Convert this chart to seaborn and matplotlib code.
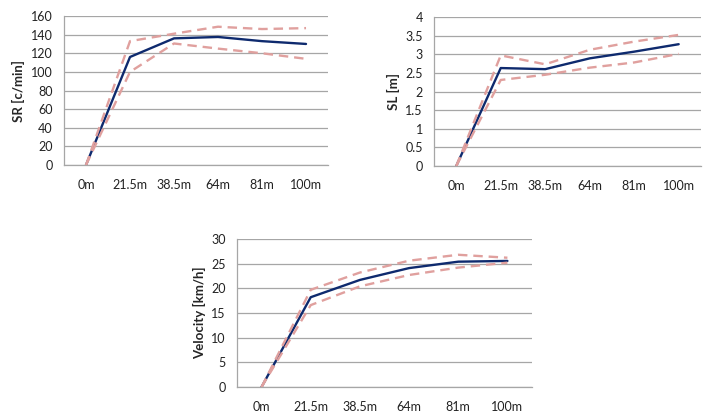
import numpy as np
import pandas as pd
import matplotlib
matplotlib.use("Agg")
import matplotlib.pyplot as plt
import seaborn as sns

sns.set_style("white")
plt.rcParams['font.family'] = ['Lato', 'DejaVu Sans']

categories = ["0m", "21.5m", "38.5m", "64m", "81m", "100m"]

sr_mean = [0, 116, 136, 137.5, 133, 130]
sr_upper = [0, 133, 141, 148.5, 146, 147]
sr_lower = [0, 100, 130.5, 125, 120, 114]

sl_mean = [0, 2.63, 2.60, 2.89, 3.07, 3.27]
sl_upper = [0, 2.97, 2.73, 3.12, 3.34, 3.52]
sl_lower = [0, 2.31, 2.45, 2.64, 2.78, 3.01]

vel_mean = [0, 18.2, 21.7, 24.1, 25.4, 25.55]
vel_upper = [0, 19.7, 23.2, 25.6, 26.8, 26.2]
vel_lower = [0, 16.6, 20.4, 22.7, 24.2, 25.2]

NAVY = "#0E2A6E"
PINK = "#E0A09E"
GRID = "#A6A6A6"

fig = plt.figure(figsize=(7.08, 4.17), dpi=100)
ax1 = fig.add_axes([0.0904, 0.6043, 0.3729, 0.3573])
ax2 = fig.add_axes([0.6130, 0.6019, 0.3770, 0.3573])
ax3 = fig.add_axes([0.3347, 0.0719, 0.4167, 0.3550])

def draw(ax, mean, upper, lower, ylabel, ymax, ystep, yfmt):
    x = np.arange(len(categories))
    df = pd.DataFrame({"x": np.tile(x, 3),
                       "y": list(mean) + list(upper) + list(lower),
                       "s": ["mean"] * len(x) + ["upper"] * len(x) + ["lower"] * len(x)})
    sns.lineplot(data=df[df.s == "mean"], x="x", y="y", ax=ax, color=NAVY, lw=1.7, zorder=3)
    sns.lineplot(data=df[df.s == "upper"], x="x", y="y", ax=ax, color=PINK, lw=1.7,
                 linestyle=(0, (4, 2.5)), zorder=4)
    sns.lineplot(data=df[df.s == "lower"], x="x", y="y", ax=ax, color=PINK, lw=1.7,
                 linestyle=(0, (4, 2.5)), zorder=4)
    ax.set_xlim(-0.5, len(categories) - 0.5)
    ax.set_ylim(0, ymax)
    yt = np.arange(0, ymax + ystep / 2, ystep)
    ax.set_yticks(yt)
    ax.set_yticklabels([yfmt(v) for v in yt])
    ax.set_xticks(x)
    ax.set_xticklabels(categories)
    ax.grid(axis="y", color=GRID, lw=0.9)
    ax.set_axisbelow(True)
    for s in ["top", "right"]:
        ax.spines[s].set_visible(False)
    for s in ["left", "bottom"]:
        ax.spines[s].set_color(GRID)
        ax.spines[s].set_linewidth(0.9)
    ax.tick_params(axis="both", length=0, labelsize=9, colors="#222222")
    ax.tick_params(axis="x", pad=10)
    ax.tick_params(axis="y", pad=8)
    ax.set_xlabel("")
    ax.set_ylabel(ylabel, fontsize=9.5, fontweight="bold", labelpad=4)

def fmt_int(v):
    return f"{int(round(v))}"

def fmt_half(v):
    return f"{int(v)}" if float(v).is_integer() else f"{v:g}"

draw(ax1, sr_mean, sr_upper, sr_lower, "SR [c/min]", 160, 20, fmt_int)
draw(ax2, sl_mean, sl_upper, sl_lower, "SL [m]", 4, 0.5, fmt_half)
draw(ax3, vel_mean, vel_upper, vel_lower, "Velocity [km/h]", 30, 5, fmt_int)

fig.savefig("out.png", dpi=100)
